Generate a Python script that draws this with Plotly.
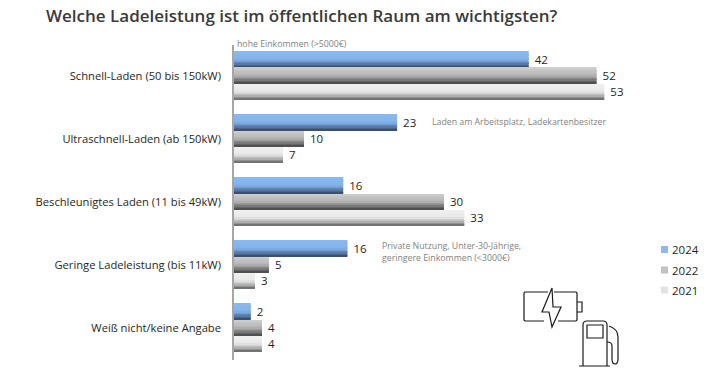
import plotly.graph_objects as go

categories = ["Schnell-Laden (50 bis 150kW)", "Ultraschnell-Laden (ab 150kW)",
              "Beschleunigtes Laden (11 bis 49kW)", "Geringe Ladeleistung (bis 11kW)",
              "Weiß nicht/keine Angabe"]
v2024 = [42.1, 23.3, 15.6, 16.2, 2.4]
v2022 = [51.8, 10, 30, 5, 4]
v2021 = [52.9, 7, 32.9, 3, 4]
years = ["2024", "2022", "2021"]
legend_colors = ["#8db9ec", "#c2c2c2", "#e3e3e3"]
title = "Welche Ladeleistung ist im öffentlichen Raum am wichtigsten?"

W, H = 713, 374
L, R, T, B = 234, 13, 45, 14
PW, PH = W - L - R, H - T - B
FONT = "Open Sans"
LABEL = "#262626"
NOTE = "#7f7f7f"

def px(x): return (x - L) / PW
def py(y): return 1 - (y - T) / PH
def P(x, y): return f"{px(x):.5f},{py(y):.5f}"

def mix(a, b, t):
    return "#" + "".join(f"{round(a[i] + (b[i] - a[i]) * t):02x}" for i in range(3))

def ramp(stops, t):
    for (t0, c0), (t1, c1) in zip(stops, stops[1:]):
        if t <= t1:
            return mix(c0, c1, (t - t0) / (t1 - t0))
    return mix(stops[-1][1], stops[-1][1], 0)

gradients = [
    [(0, (135, 184, 240)), (0.5, (130, 178, 235)), (0.8, (90, 125, 170)), (1, (58, 80, 110))],
    [(0, (205, 205, 205)), (0.5, (182, 182, 182)), (0.8, (125, 125, 125)), (1, (80, 80, 80))],
    [(0, (240, 240, 240)), (0.5, (232, 232, 232)), (0.8, (180, 180, 180)), (1, (115, 115, 115))],
]
offsets = [-0.39, -0.135, 0.12]
BAR = 0.25
SLICES = 12
LABEL_SHIFT = 3 / 7.0

fig = go.Figure()
for name, vals, grad, off in zip(years, [v2024, v2022, v2021], gradients, offsets):
    for s in range(SLICES):
        fig.add_trace(go.Bar(
            y=categories, x=vals, orientation="h", name=name, showlegend=False,
            offset=off + s * BAR / SLICES, width=BAR / SLICES * 1.15,
            marker=dict(color=ramp(grad, s / (SLICES - 1)), line_width=0),
            hoverinfo="skip"))
    fig.add_trace(go.Bar(
        y=categories, x=vals, orientation="h", name=name, showlegend=False,
        offset=off, width=BAR, base=LABEL_SHIFT,
        marker=dict(color="rgba(0,0,0,0)", line_width=0),
        text=[f"{v:.0f}" for v in vals], textposition="outside", cliponaxis=False,
        textfont=dict(family=FONT, size=11.5, color=LABEL), hoverinfo="skip"))

def note(text, x, y, font):
    return dict(text=text, xref="paper", yref="paper", x=px(x), y=py(y), xanchor="left",
                yanchor="middle", showarrow=False, borderpad=0, font=font)

note_font = dict(family=FONT, size=8.75, color=NOTE)
annotations = [
    note(title, 45, 16, dict(family=FONT, size=17, color="#3a3a3a", weight=600)),
    note("hohe Einkommen (>5000€)", 236, 44, note_font),
    note("Laden am Arbeitsplatz, Ladekartenbesitzer", 431, 122, note_font),
    note("Private Nutzung, Unter-30-Jährige,", 381, 246, note_font),
    note("geringere Einkommen (<3000€)", 381, 258, note_font),
]
shapes = []
for yr, col, yy in zip(years, legend_colors, [249.5, 270, 290]):
    shapes.append(dict(type="rect", xref="paper", yref="paper", x0=px(661), x1=px(668),
                       y0=py(yy + 3.5), y1=py(yy - 3.5), fillcolor=col, line_width=0))
    annotations.append(note(yr, 671, yy, dict(family=FONT, size=11.5, color=LABEL)))

ICON = dict(color="#1a1a1a", width=1.2)
paths = [
    f"M{P(548,292)} L{P(525,292)} L{P(524,293)} L{P(524,320)} L{P(525,321)} L{P(544,321)}",
    f"M{P(554,292)} L{P(576,292)} L{P(577,293)} L{P(577,320)} L{P(576,321)} L{P(558,321)}",
    f"M{P(577,302)} L{P(582,302)} L{P(582,312)} L{P(577,312)}",
    f"M{P(552,288)} L{P(542,312)} L{P(549,312)} L{P(552,327)} L{P(561,307)} L{P(553,307)} Z",
    f"M{P(583,366)} L{P(583,325)} Q{P(583,321)} {P(587,321)} L{P(603,321)} Q{P(607,321)} {P(607,325)} L{P(607,366)}",
    f"M{P(579,366)} L{P(610,366)}",
    f"M{P(587,325)} L{P(603,325)} L{P(603,338)} L{P(587,338)} Z",
    f"M{P(609,326)} Q{P(618,329)} {P(618,337)} L{P(618,359)} Q{P(618,364)} {P(615,364)} Q{P(612,364)} {P(612,359)} L{P(612,346)} Q{P(612,342)} {P(607,342)}",
]
for p in paths:
    shapes.append(dict(type="path", xref="paper", yref="paper", path=p, line=ICON))

fig.update_layout(
    width=W, height=H, autosize=False, barmode="overlay", showlegend=False,
    margin=dict(l=L, r=R, t=T, b=B),
    paper_bgcolor="white", plot_bgcolor="white",
    xaxis=dict(range=[0, PW / 7.0], visible=False, fixedrange=True),
    yaxis=dict(categoryorder="array", categoryarray=categories, autorange="reversed",
               showgrid=False, zeroline=False, showline=True, linecolor="#a6a6a6", linewidth=1.5,
               ticks="", ticklabelstandoff=9,
               tickfont=dict(family=FONT, size=11.2, color=LABEL)),
    annotations=annotations, shapes=shapes,
)
fig.write_html("out.html", config=dict(displayModeBar=False),
               post_script="document.body.style.margin='0';")
